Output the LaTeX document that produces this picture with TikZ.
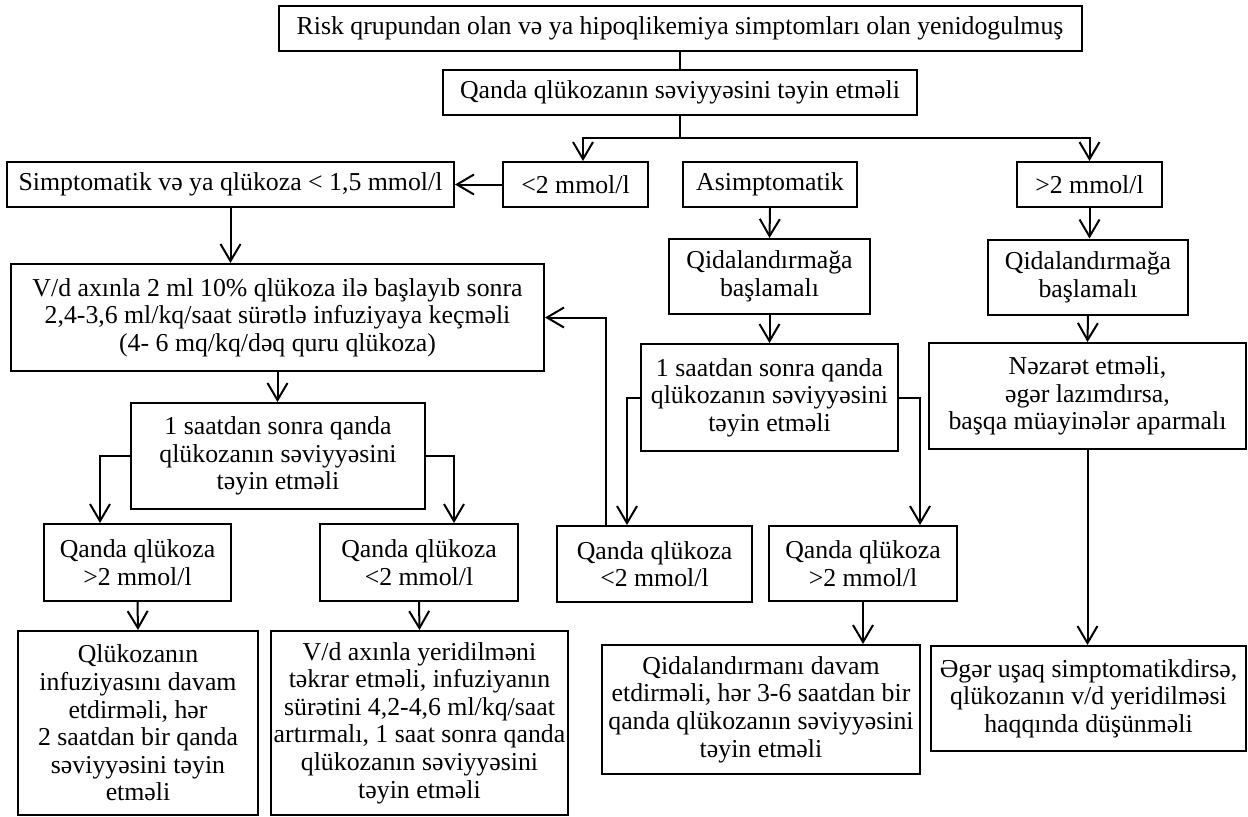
\documentclass[tikz,border=0pt]{standalone}
\usepackage{fontspec}
\setmainfont{Liberation Serif}
\usetikzlibrary{arrows.meta}

\begin{document}
\begin{tikzpicture}[x=0.5pt, y=-0.5pt,
    box/.style={rectangle, draw, line width=1pt, align=center, inner sep=0pt,
        font=\fontsize{12.9pt}{13.8pt}\selectfont},
    arr/.style={line width=1pt, -{Straight Barb[length=8.5pt, width=10pt]}},
    link/.style={line width=1pt}]
    \useasboundingbox (0,0) rectangle (1248,816);

    % Top
    \node[box, minimum width=401.5pt, minimum height=22.5pt] (risk) at (680,28.5)
        {Risk qrupundan olan və ya hipoqlikemiya simptomları olan yenidogulmuş};
    \node[box, minimum width=237pt, minimum height=22.5pt] (level) at (680,92.5)
        {Qanda qlükozanın səviyyəsini təyin etməli};
    \draw[link] (risk.south) -- (level.north);
    \coordinate (split) at (680,138);

    % Second row
    \node[box, minimum width=72.5pt, minimum height=22.5pt] (low) at (575.5,184.5) {<2 mmol/l};
    \node[box, minimum width=87pt, minimum height=22.5pt] (asym) at (770,184.5) {Asimptomatik};
    \node[box, minimum width=72.5pt, minimum height=22.5pt] (high) at (1089.5,184.5) {>2 mmol/l};
    \node[box, minimum width=223.5pt, minimum height=22.5pt] (sympt) at (230.5,184.5)
        {Simptomatik və ya qlükoza < 1,5 mmol/l};
    \draw[link] (level.south) -- (split);
    \draw[arr] (split) -| ([xshift=3.75pt]low.north);
    \draw[arr] (split) -| (high.north);
    \draw[arr] (low.west) -- (sympt.east);

    % Symptomatic branch
    \node[box, minimum width=266.5pt, minimum height=53.5pt] (ivstart) at (277.5,317.5)
        {V/d axınla 2 ml 10\% qlükoza ilə başlayıb sonra\\
         2,4-3,6 ml/kq/saat sürətlə infuziyaya keçməli\\
         (4- 6 mq/kq/dəq quru qlükoza)};
    \draw[arr] (sympt.south) -- (sympt.south |- ivstart.north);

    \node[box, minimum width=147pt, minimum height=53pt] (checkL) at (278,456)
        {1 saatdan sonra qanda\\qlükozanın səviyyəsini\\təyin etməli};
    \draw[arr] (ivstart.south) -- (ivstart.south |- checkL.north);

    \node[box, minimum width=93.5pt, minimum height=38.5pt] (qLhigh) at (137.5,562.5)
        {Qanda qlükoza\\>2 mmol/l};
    \node[box, minimum width=99pt, minimum height=38.5pt] (qLlow) at (419,562.5)
        {Qanda qlükoza\\<2 mmol/l};
    \draw[arr] (checkL.west) -| ([xshift=-18.75pt]qLhigh.north);
    \draw[arr] (checkL.east) -| ([xshift=17.5pt]qLlow.north);

    \node[box, minimum width=120pt, minimum height=92pt] (contL) at (138,723)
        {Qlükozanın\\infuziyasını davam\\etdirməli, hər\\2 saatdan bir qanda\\səviyyəsini təyin\\etməli};
    \node[box, minimum width=148.5pt, minimum height=92pt] (repeat) at (419.5,723)
        {V/d axınla yeridilməni\\təkrar etməli, infuziyanın\\sürətini 4,2-4,6 ml/kq/saat\\artırmalı, 1 saat sonra qanda\\qlükozanın səviyyəsini\\təyin etməli};
    \draw[arr] (qLhigh.south) -- (contL.north);
    \draw[arr] (qLlow.south) -- (repeat.north);

    % Asymptomatic branch
    \node[box, minimum width=100.5pt, minimum height=37.5pt] (feedA) at (769.5,276.5)
        {Qidalandırmağa\\başlamalı};
    \draw[arr] (asym.south) -- (feedA.north);

    \node[box, minimum width=128.5pt, minimum height=53.5pt] (checkM) at (769.5,397.5)
        {1 saatdan sonra qanda\\qlükozanın səviyyəsini\\təyin etməli};
    \draw[arr] (feedA.south) -- (checkM.north);

    \node[box, minimum width=97.5pt, minimum height=38pt] (qMlow) at (654.5,564)
        {Qanda qlükoza\\<2 mmol/l};
    \node[box, minimum width=94pt, minimum height=37.5pt] (qMhigh) at (863,563.5)
        {Qanda qlükoza\\>2 mmol/l};
    \draw[arr] (checkM.west) -| ([xshift=-13.75pt]qMlow.north);
    \draw[arr] (checkM.east) -| ([xshift=28.5pt]qMhigh.north);
    \draw[arr] ([xshift=-24.25pt]qMlow.north) |- (ivstart.east);

    \node[box, minimum width=159pt, minimum height=64.5pt] (contM) at (761,709.5)
        {Qidalandırmanı davam\\etdirməli, hər 3-6 saatdan bir\\qanda qlükozanın səviyyəsini\\təyin etməli};
    \draw[arr] (qMhigh.south) -- (qMhigh.south |- contM.north);

    % High branch
    \node[box, minimum width=100pt, minimum height=37.5pt] (feedB) at (1088,277)
        {Qidalandırmağa\\başlamalı};
    \draw[arr] (high.south) -- (high.south |- feedB.north);

    \node[box, minimum width=158.5pt, minimum height=53pt] (watch) at (1087.5,396)
        {Nəzarət etməli,\\əgər lazımdırsa,\\başqa müayinələr aparmalı};
    \draw[arr] (feedB.south) -- (watch.north);

    \node[box, minimum width=157.5pt, minimum height=52.5pt] (ivthink) at (1088.5,698.5)
        {Əgər uşaq simptomatikdirsə,\\qlükozanın v/d yeridilməsi\\haqqında düşünməli};
    \draw[arr] (watch.south) -- (watch.south |- ivthink.north);
\end{tikzpicture}
\end{document}
